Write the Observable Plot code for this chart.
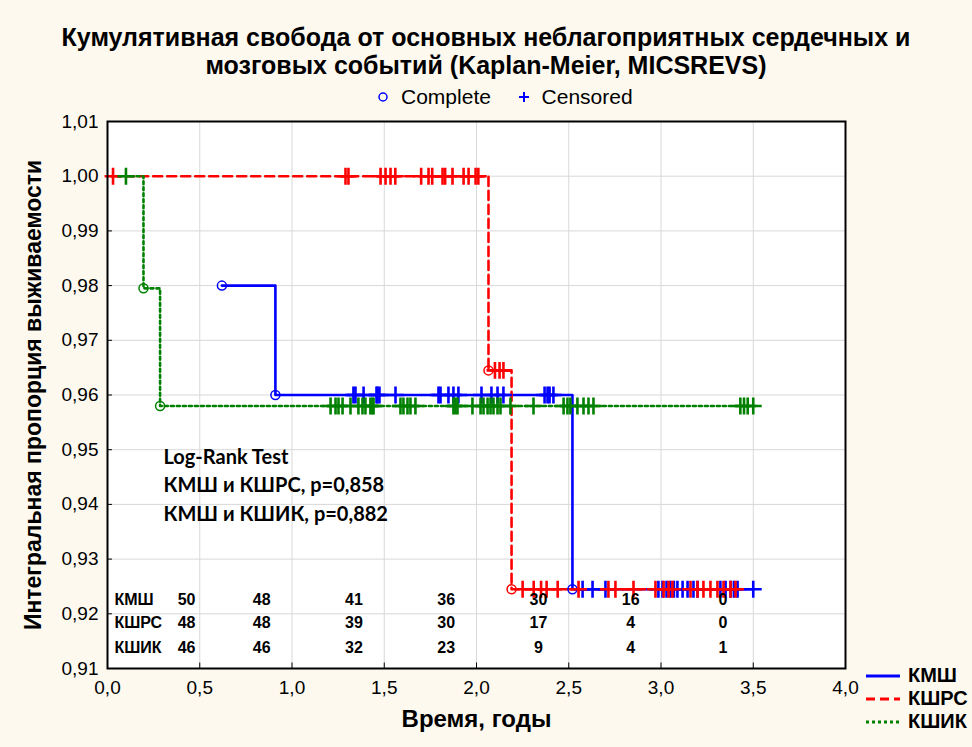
<!DOCTYPE html>
<html><head><meta charset="utf-8">
<script src="https://cdn.jsdelivr.net/npm/d3@7"></script>
<script src="https://cdn.jsdelivr.net/npm/@observablehq/plot@0.6"></script>
<style>
html,body{margin:0;padding:0;}
body{background:#fdf9ef;width:972px;height:747px;overflow:hidden;position:relative;font-family:"Liberation Sans",Arial,sans-serif;color:#000;}
#title{position:absolute;top:23px;left:0;width:972px;text-align:center;font-weight:bold;font-size:25px;line-height:28px;}
#toplegend{position:absolute;top:86px;left:19px;width:972px;display:flex;justify-content:center;align-items:center;font-size:21px;line-height:22px;}
#toplegend span{display:inline-flex;align-items:center;}
#chart{position:absolute;top:108px;left:0;}
#sidelegend{position:absolute;left:866px;top:664px;font-weight:bold;font-size:20px;}
#sidelegend div{display:flex;align-items:center;height:23px;}
#sidelegend svg{margin-right:8px;}
</style>
</head><body>
<div id="title"></div>
<div id="toplegend"></div>
<div id="chart"></div>
<div id="sidelegend"></div>
<script>
// ---------- data ----------
const titleLines = ["Кумулятивная свобода от основных неблагоприятных сердечных и", "мозговых событий (Kaplan-Meier, MICSREVS)"];
const groups = ["КМШ", "КШРС", "КШИК"];
const colors = ["#0000ff", "#ff0000", "#008000"];
const dashes = [null, "9,5", "3,3"];
const xTicks = [0, 0.5, 1, 1.5, 2, 2.5, 3, 3.5, 4];
const yTicks = [0.91, 0.92, 0.93, 0.94, 0.95, 0.96, 0.97, 0.98, 0.99, 1.00, 1.01];
const xLabel = "Время, годы";
const yLabel = "Интегральная пропорция выживаемости";

// step curves (time, survival)
const kmshStepT = [0.62, 0.91, 2.52, 3.5];
const kmshStepS = [0.98, 0.96, 0.9245, 0.9245];
const kshrsStepT = [0.02, 2.065, 2.19, 3.404];
const kshrsStepS = [1.0, 0.9645, 0.9245, 0.9245];
const kshikStepT = [0.06, 0.195, 0.285, 3.5];
const kshikStepS = [1.0, 0.9795, 0.958, 0.958];

// complete (event) times
const kmshEventT = [0.62, 0.91, 2.52];
const kshrsEventT = [2.065, 2.19];
const kshikEventT = [0.195, 0.285];

// censored times
const kmshCensT = [1.333,1.344,1.388,1.458,1.463,1.474,1.561,1.794,1.805,1.848,1.875,1.902,2.027,2.081,2.114,2.146,2.369,2.385,2.396,2.417,
  2.575,2.629,2.699,2.986,3.008,3.03,3.051,3.07,3.089,3.117,3.144,3.176,3.198,3.322,3.35,3.377,3.395,3.415,3.5];
const kshrsCensT = [0.03,1.29,1.306,1.48,1.507,1.534,1.56,1.70,1.74,1.76,1.816,1.83,1.87,1.93,1.957,1.995,2.01,2.10,2.125,2.146,
  2.25,2.31,2.35,2.38,2.44,2.553,2.715,2.753,2.851,2.97,3.014,3.041,3.062,3.16,3.198,3.23,3.268,3.306,3.339,3.377,3.404];
const kshikCensT = [0.1,1.209,1.236,1.252,1.274,1.317,1.36,1.382,1.398,1.425,1.436,1.442,1.588,1.604,1.626,1.642,1.669,1.875,1.886,1.897,
  1.978,2.022,2.038,2.06,2.076,2.092,2.114,2.13,2.184,2.309,2.472,2.493,2.509,2.547,2.58,2.607,2.634,3.43,3.45,3.47,3.5];

// numbers at risk
const riskTimes = [0, 0.5, 1, 1.5, 2, 2.5, 3];
const kmshRisk = [50, 48, 41, 36, 30, 16, 0];
const kshrsRisk = [48, 48, 39, 30, 17, 4, 0];
const kshikRisk = [46, 46, 32, 23, 9, 4, 1];

const logRankText = ["Log-Rank Test", "КМШ и КШРС, p=0,858", "КМШ и КШИК, p=0,882"];
const legendComplete = "Complete";
const legendCensored = "Censored";

// ---------- build ----------
document.getElementById("title").innerHTML = titleLines.join("<br>");
document.getElementById("toplegend").innerHTML =
  `<span><svg width="12" height="12"><circle cx="6" cy="6" r="4" fill="none" stroke="#0000ff" stroke-width="1.5"/></svg>&nbsp;&nbsp;${legendComplete}</span>` +
  `<span style="margin-left:27px"><svg width="12" height="12"><path d="M6 1V11M1 6H11" stroke="#0000ff" stroke-width="2"/></svg>&nbsp;&nbsp;${legendCensored}</span>`;

const stepsT = [kmshStepT, kshrsStepT, kshikStepT];
const stepsS = [kmshStepS, kshrsStepS, kshikStepS];
const eventsT = [kmshEventT, kshrsEventT, kshikEventT];
const censT = [kmshCensT, kshrsCensT, kshikCensT];
const risks = [kmshRisk, kshrsRisk, kshikRisk];

function survAt(gi, t) {
  const T = stepsT[gi], S = stepsS[gi];
  let s = S[0];
  for (let i = 0; i < T.length; i++) if (T[i] <= t + 1e-9) s = S[i];
  return s;
}

const fmt1 = d => d.toFixed(1).replace(".", ",");
const fmt2 = d => d.toFixed(2).replace(".", ",");

const marks = [
  Plot.frame({fill: "white"}),
  Plot.gridX(xTicks, {stroke: "#d8d8d8", strokeOpacity: 1}),
  Plot.gridY(yTicks, {stroke: "#d8d8d8", strokeOpacity: 1}),
  Plot.ruleX(xTicks, {y1: 0.91, y2: 0.911, stroke: "black"}),
  Plot.ruleY(yTicks, {x1: 0, x2: 0.027, stroke: "black"}),
  Plot.axisX({ticks: xTicks, tickSize: 0, tickPadding: 12, tickFormat: fmt1, label: null, fontSize: 19}),
  Plot.axisY({ticks: yTicks, tickSize: 0, tickPadding: 9, tickFormat: fmt2, label: null, fontSize: 19})
];

groups.forEach((g, gi) => {
  const line = stepsT[gi].map((t, i) => ({t, s: stepsS[gi][i]}));
  marks.push(Plot.line(line, {x: "t", y: "s", curve: "step-after", stroke: colors[gi],
    strokeWidth: 2.6, strokeDasharray: dashes[gi]}));
});
groups.forEach((g, gi) => {
  const cens = censT[gi].map(t => ({t, s: survAt(gi, t)}));
  marks.push(Plot.dot(cens, {x: "t", y: "s", symbol: "plus", r: 5.5, stroke: colors[gi], strokeWidth: 2.6}));
  const ev = eventsT[gi].map(t => ({t, s: survAt(gi, t)}));
  marks.push(Plot.dot(ev, {x: "t", y: "s", r: 4.5, stroke: colors[gi], fill: "none", strokeWidth: 1.5}));
});

// numbers at risk table
const rowDy = [-64, -41, -16];
groups.forEach((g, gi) => {
  marks.push(Plot.text([g], {x: () => 0, frameAnchor: "bottom", dy: rowDy[gi], dx: 7, textAnchor: "start", fontWeight: "bold", fontSize: 16}));
  const cells = riskTimes.map((t, i) => ({t, n: risks[gi][i]}));
  marks.push(Plot.text(cells.slice(0, 1), {x: "t", text: "n", frameAnchor: "bottom", dy: rowDy[gi], dx: 88, textAnchor: "end", fontWeight: "bold", fontSize: 16}));
  marks.push(Plot.text(cells.slice(1), {x: "t", text: "n", frameAnchor: "bottom", dy: rowDy[gi], dx: 62, textAnchor: "middle", fontWeight: "bold", fontSize: 16}));
});

marks.push(Plot.text([logRankText.join("\n")], {frameAnchor: "top-left", dx: 56, dy: 322, lineAnchor: "top", lineHeight: 1.43,
  textAnchor: "start", fontWeight: "bold", fontSize: 20, fontFamily: "Lato, 'Open Sans', sans-serif"}));

marks.push(Plot.text([xLabel], {frameAnchor: "bottom", dy: 58, textAnchor: "middle", fontWeight: "bold", fontSize: 24}));
marks.push(Plot.text([yLabel], {frameAnchor: "left", dx: -74, rotate: -90, textAnchor: "middle", fontWeight: "bold", fontSize: 23}));
marks.push(Plot.frame({stroke: "black", strokeWidth: 2}));

const chart = Plot.plot({
  width: 972, height: 639,
  marginTop: 13, marginBottom: 79, marginLeft: 107, marginRight: 127,
  style: {background: "transparent", fontFamily: "'Liberation Sans', Arial, sans-serif", fontSize: "18px", color: "black", overflow: "visible"},
  x: {domain: [0, 4]},
  y: {domain: [0.91, 1.01]},
  marks
});
document.getElementById("chart").appendChild(chart);

// side legend
const side = document.getElementById("sidelegend");
groups.forEach((g, gi) => {
  const d = document.createElement("div");
  d.innerHTML = `<svg width="34" height="6"><line x1="0" y1="3" x2="34" y2="3" stroke="${colors[gi]}" stroke-width="3" ${dashes[gi] ? `stroke-dasharray="${dashes[gi]}"` : ""}/></svg><span>${g}</span>`;
  side.appendChild(d);
});
</script>
</body></html>
